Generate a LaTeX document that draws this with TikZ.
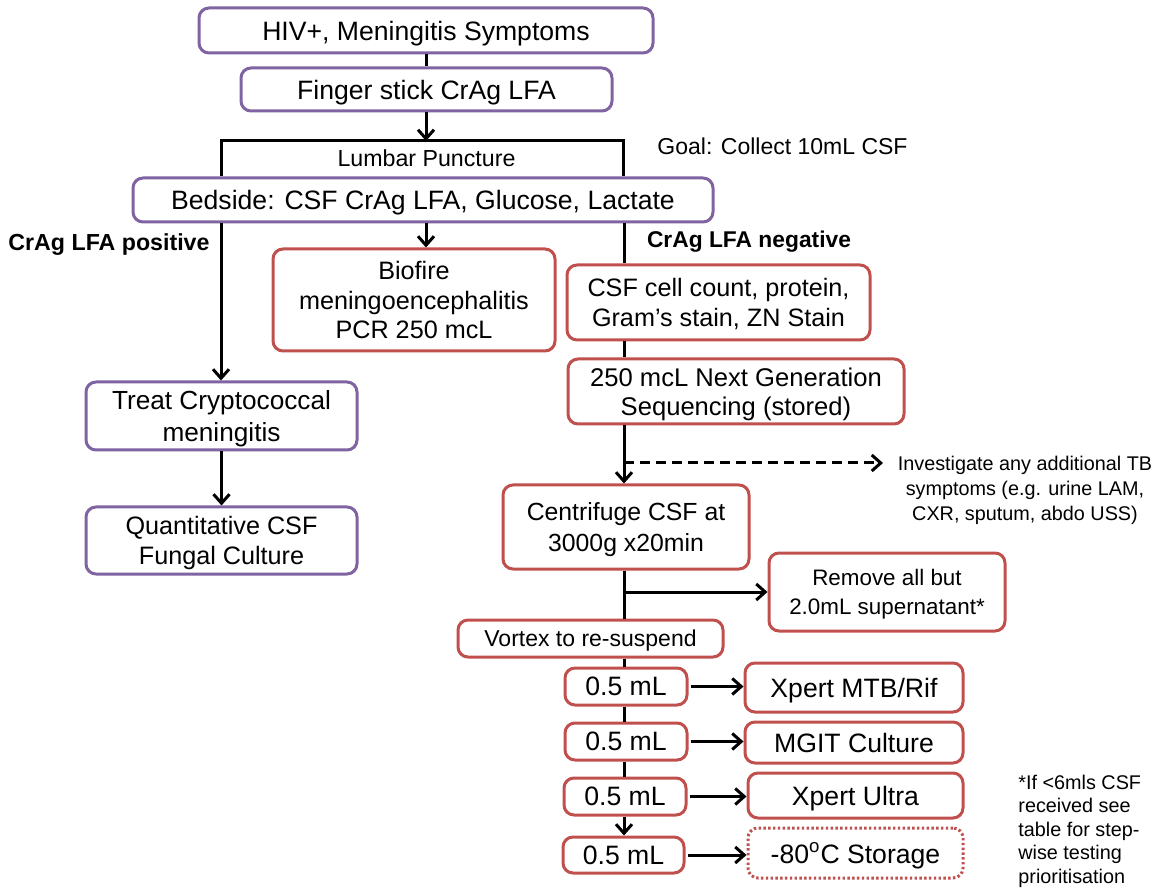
\documentclass[tikz,border=0pt]{standalone}
\usepackage{fontspec}
\setmainfont{Liberation Sans}
\usetikzlibrary{arrows.meta}
\definecolor{boxpurple}{HTML}{8064A2}
\definecolor{boxred}{HTML}{C0504D}
\tikzset{
  box/.style={draw, line width=1.5pt, rounded corners=5pt, inner sep=0pt, align=center, text depth=0pt},
  purplebox/.style={box, draw=boxpurple},
  redbox/.style={box, draw=boxred},
  plainline/.style={line width=1.5pt},
  conn/.style={line width=1.5pt, -{Straight Barb[length=4.5pt,width=8pt,line width=1.5pt]}},
  dashconn/.style={conn, dash pattern=on 5pt off 3pt},
  fbig/.style={font=\fontsize{13.3}{15.5}\selectfont},
  fmid/.style={font=\fontsize{12.6}{15.2}\selectfont},
  fsmall/.style={font=\fontsize{11.5}{14}\selectfont},
  fnote/.style={font=\fontsize{9.9}{12.5}\selectfont},
  lbl/.style={inner sep=0pt},
}
\begin{document}
\begin{tikzpicture}[x=0.5pt,y=-0.5pt]
\useasboundingbox (0,0) rectangle (1158,893);
\coordinate (sp) at (624,0);
\coordinate (lp) at (221,0);
\coordinate (barL) at (221,141);
\coordinate (barR) at (623,141);
\coordinate (invtip) at (883,463);

% purple boxes
\node[purplebox, fbig, minimum width=227pt, minimum height=22.5pt] (hiv) at (426,30.5) {HIV+, Meningitis Symptoms};
\node[purplebox, fbig, minimum width=185.5pt, minimum height=21.5pt] (fs) at (426.5,89.5) {Finger stick CrAg LFA};
\node[purplebox, fbig, minimum width=290pt, minimum height=22pt] (bed) at (423,200) {Bedside: CSF CrAg LFA, Glucose, Lactate};
\node[purplebox, font=\fontsize{13.1}{15.7}\selectfont, minimum width=135.5pt, minimum height=34pt] (treat) at (221.5,416) {Treat Cryptococcal\\meningitis};
\node[purplebox, fmid, minimum width=135.5pt, minimum height=33.5pt] (quant) at (221.5,540.5) {Quantitative CSF\\Fungal Culture};

% red boxes
\node[redbox, font=\fontsize{12.6}{14.75}\selectfont, minimum width=141pt, minimum height=51pt] (bio) at (414,300) {Biofire\\meningoencephalitis\\PCR 250 mcL};
\node[redbox, fmid, minimum width=151.5pt, minimum height=37.5pt] (csf) at (718.5,302.5) {CSF cell count, protein,\\Gram’s stain, ZN Stain};
\node[redbox, font=\fontsize{12.8}{14.6}\selectfont, minimum width=168pt, minimum height=32.5pt] (ngs) at (736,391.5) {250 mcL Next Generation\\Sequencing (stored)};
\node[redbox, font=\fontsize{12.4}{15.5}\selectfont, minimum width=123pt, minimum height=42pt] (cent) at (626,527) {Centrifuge CSF at\\3000g x20min};
\node[redbox, font=\fontsize{11.2}{14.6}\selectfont, minimum width=118pt, minimum height=39pt] (rem) at (887,592) {Remove all but\\2.0mL supernatant*};
\node[redbox, fsmall, minimum width=132.5pt, minimum height=18.5pt] (vort) at (590.5,638.5) {Vortex to re-suspend};

\node[redbox, fbig, minimum width=61pt, minimum height=18.5pt] (ha) at (626,686.5) {0.5 mL};
\node[redbox, fbig, minimum width=61pt, minimum height=18.5pt] (hb) at (626,741.5) {0.5 mL};
\node[redbox, fbig, minimum width=61pt, minimum height=18.5pt] (hc) at (625,796.5) {0.5 mL};
\node[redbox, fbig, minimum width=60.5pt, minimum height=18pt] (hd) at (623.5,855) {0.5 mL};

\node[redbox, fbig, minimum width=109pt, minimum height=24.5pt] (ra) at (854,687.5) {Xpert MTB/Rif};
\node[redbox, fbig, minimum width=109pt, minimum height=20.5pt] (rb) at (854,742.5) {MGIT Culture};
\node[redbox, fbig, minimum width=107.5pt, minimum height=22.5pt] (rc) at (855.5,795.5) {Xpert Ultra};
\node[redbox, fbig, minimum width=107.5pt, minimum height=25pt, dash pattern=on 1.2pt off 1.2pt] (rd) at (855.5,853) {-80\textsuperscript{o}C Storage};

% free labels
\node[lbl, font=\fontsize{11.6}{14}\selectfont] (lum) at (426.5,158) {Lumbar Puncture};
\node[lbl, fsmall] (goal) at (782.5,146) {Goal: Collect 10mL CSF};
\node[lbl, font=\bfseries\fontsize{11.6}{14}\selectfont] (pos) at (109,245) {CrAg LFA positive};
\node[lbl, font=\bfseries\fontsize{11.4}{14}\selectfont] (neg) at (749,242) {CrAg LFA negative};
\node[lbl, fnote, align=center] (inv) at (1025,490) {Investigate any additional TB\\symptoms (e.g. urine LAM,\\CXR, sputum, abdo USS)};
\node[lbl, font=\fontsize{9.9}{11.75}\selectfont, align=left, anchor=west] (note) at (1018,831) {*If <6mls CSF\\received see\\table for step-\\wise testing\\prioritisation};

% connectors
\draw[plainline] (hiv.south) -- (hiv.south |- fs.north);
\draw[plainline] (bed.north -| barL) -- (barL) -- (barR) -- (bed.north -| barR);
\draw[conn] (fs.south -| hiv) -- (barL -| hiv);
\draw[conn] (bed.south -| lp) -- (treat.north -| lp);
\draw[conn] (treat.south) -- (quant.north);
\draw[conn] (bed.south -| hiv) -- (bio.north -| hiv);
\draw[plainline] (bed.south -| sp) -- (csf.north -| sp);
\draw[plainline] (csf.south -| sp) -- (ngs.north -| sp);
\draw[conn] (ngs.south -| sp) -- (cent.north -| sp);
\draw[dashconn] (invtip -| sp) -- (invtip);
\draw[plainline] (cent.south -| sp) -- (vort.north -| sp);
\draw[conn] (rem.west -| sp) -- (rem.west);
\draw[plainline] (vort.south -| sp) -- (ha.north -| sp);
\draw[plainline] (ha.south -| sp) -- (hb.north -| sp);
\draw[plainline] (hb.south -| sp) -- (hc.north -| sp);
\draw[conn] (hc.south -| sp) -- (hd.north -| sp);
\draw[conn, shorten <=1pt] (ha.east) -- (ra.west |- ha.east);
\draw[conn, shorten <=1pt] (hb.east) -- (rb.west |- hb.east);
\draw[conn, shorten <=1pt] (hc.east) -- (rc.west |- hc.east);
\draw[conn, shorten <=1pt] (hd.east) -- (rd.west |- hd.east);
\end{tikzpicture}
\end{document}
